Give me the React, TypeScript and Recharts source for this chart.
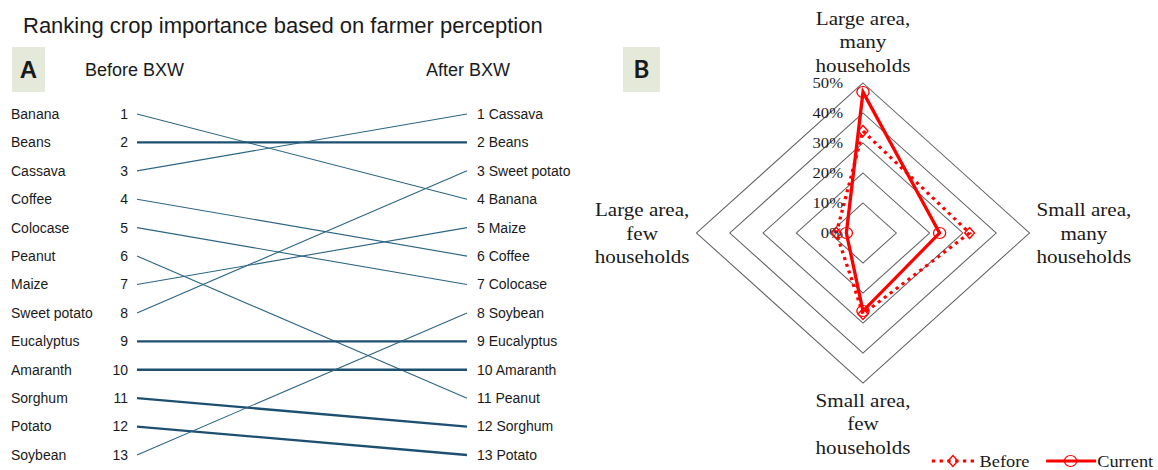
import React from "react";
import {
  LineChart,
  Line,
  XAxis,
  YAxis,
  RadarChart,
  Radar,
  PolarGrid,
  PolarAngleAxis,
  PolarRadiusAxis,
  Legend,
} from "recharts";

// Panel A: crop ranking before / after BXW
const crops = [
  "Banana",
  "Beans",
  "Cassava",
  "Coffee",
  "Colocase",
  "Peanut",
  "Maize",
  "Sweet potato",
  "Eucalyptus",
  "Amaranth",
  "Sorghum",
  "Potato",
  "Soybean",
];
const rankBefore = [1, 2, 3, 4, 5, 6, 7, 8, 9, 10, 11, 12, 13];
const rankAfter = [4, 2, 1, 6, 7, 11, 5, 3, 9, 10, 12, 13, 8];
const rankTicks = [1, 2, 3, 4, 5, 6, 7, 8, 9, 10, 11, 12, 13];

// Panel B: share of farms by area / households (%)
const radarAxes = [
  "Large area, many households",
  "Small area, many households",
  "Small area, few households",
  "Large area, few households",
];
const sharesBefore = [34, 32, 27, 8];
const sharesCurrent = [47, 23, 26, 5];
const percentTicks = [0, 10, 20, 30, 40, 50];

const thickCrops = ["Beans", "Eucalyptus", "Amaranth", "Sorghum", "Potato"];

const SANS = "'Liberation Sans', Arial, sans-serif";
const SERIF = "'Liberation Serif', 'Times New Roman', serif";
const TEXT = "#1a1a1a";
const RED = "#ff0000";

// radar is stretched horizontally like the original Excel picture
const SX = 1.11;
const RCX = 283;
const RCY = 233;

const slopeData = [
  { stage: 0, ...Object.fromEntries(crops.map((c, i) => [c, rankBefore[i]])) },
  { stage: 1, ...Object.fromEntries(crops.map((c, i) => [c, rankAfter[i]])) },
];

const radarData = radarAxes.map((axis, i) => ({
  axis,
  before: sharesBefore[i],
  current: sharesCurrent[i],
}));

function LeftTick(props: any) {
  const { x, y, payload } = props;
  const idx = rankBefore.indexOf(payload.value);
  return (
    <g fontFamily={SANS} fontSize={14} fill={TEXT}>
      <text x={x - 117} y={y} dy="0.35em" textAnchor="start" fill={TEXT}>
        {crops[idx]}
      </text>
      <text x={x} y={y} dy="0.35em" textAnchor="end" fill={TEXT}>
        {payload.value}
      </text>
    </g>
  );
}

function RightTick(props: any) {
  const { x, y, payload } = props;
  const idx = rankAfter.indexOf(payload.value);
  return (
    <text x={x} y={y} dy="0.35em" textAnchor="start" fontFamily={SANS} fontSize={14} fill={TEXT}>
      {payload.value} {crops[idx]}
    </text>
  );
}

function AngleTick(props: any) {
  const { x, y, payload } = props;
  const words = String(payload.value).split(" ");
  const lines = [words.slice(0, 2).join(" "), ...words.slice(2)];
  const dx = x - RCX;
  const dy = y - RCY;
  let tx = RCX;
  let ys = [-23.5, 0, 23.5];
  if (Math.abs(dy) > Math.abs(dx)) {
    ys = dy < 0 ? [-215, -191.5, -168] : [167, 190.5, 214];
  } else {
    tx = RCX + Math.sign(dx) * 199;
  }
  return (
    <text textAnchor="middle" fontFamily={SERIF} fontSize={19} fill={TEXT}>
      {lines.map((l, i) => (
        <tspan key={i} x={tx} y={RCY + ys[i]} dy="0.35em">
          {l}
        </tspan>
      ))}
    </text>
  );
}

function RadiusTick(props: any) {
  const { x, y, payload } = props;
  return (
    <text x={x - 18} y={y} dy="0.35em" textAnchor="end" fontFamily={SERIF} fontSize={15} fill={TEXT}>
      {payload.value}%
    </text>
  );
}

const circleDot = (p: any) => (
  <circle key={`c-${p.index}`} cx={p.cx} cy={p.cy} r={5.5} fill="none" stroke={RED} strokeWidth={1.2} />
);

const diamondDot = (p: any) => (
  <path
    key={`d-${p.index}`}
    d={`M${p.cx},${p.cy - 5.5} L${p.cx + 4.5},${p.cy} L${p.cx},${p.cy + 5.5} L${p.cx - 4.5},${p.cy} Z`}
    fill="none"
    stroke={RED}
    strokeWidth={1.2}
  />
);

function RadarLegend() {
  return (
    <svg width={210} height={22} style={{ display: "block", overflow: "visible" }}>
      <line x1={0} y1={11} x2={38} y2={11} stroke={RED} strokeWidth={3} strokeDasharray="3 4" />
      {diamondDot({ cx: 19, cy: 11, index: "l" })}
      <text x={43} y={11} dy="0.35em" fontFamily={SERIF} fontSize={16.5} fill={TEXT}>
        Before
      </text>
      <line x1={103} y1={11} x2={148} y2={11} stroke={RED} strokeWidth={3} />
      {circleDot({ cx: 125, cy: 11, index: "l" })}
      <text x={149} y={11} dy="0.35em" fontFamily={SERIF} fontSize={16.5} fill={TEXT}>
        Current
      </text>
    </svg>
  );
}

export default function App() {
  return (
    <div
      style={{
        position: "absolute",
        left: 0,
        top: 0,
        width: 1158,
        height: 470,
        background: "#ffffff",
        overflow: "hidden",
      }}
    >
      <svg width={1158} height={470} style={{ position: "absolute", left: 0, top: 0 }}>
        <text x={23} y={25} dy="0.35em" fontFamily={SANS} fontSize={22} fill={TEXT}>
          Ranking crop importance based on farmer perception
        </text>
        <rect x={12} y={47} width={33} height={45} fill="#e4e9da" />
        <text x={28.5} y={70} dy="0.35em" textAnchor="middle" fontFamily={SANS} fontSize={24} fontWeight="bold" fill={TEXT}>
          A
        </text>
        <text x={85} y={70} dy="0.35em" fontFamily={SANS} fontSize={18} fill={TEXT}>
          Before BXW
        </text>
        <text x={426} y={70} dy="0.35em" fontFamily={SANS} fontSize={18} fill={TEXT}>
          After BXW
        </text>
        <rect x={623} y={47} width={37} height={45} fill="#e4e9da" />
        <text x={641.5} y={70} dy="0.35em" textAnchor="middle" fontFamily="Lato, 'Open Sans', sans-serif" fontSize={24} fontWeight="bold" fill={TEXT}>
          B
        </text>
      </svg>

      <div style={{ position: "absolute", left: 0, top: 0 }}>
        <LineChart width={600} height={470} data={slopeData} margin={{ top: 114, right: 0, bottom: 15, left: 0 }}>
          <XAxis dataKey="stage" type="number" domain={[0, 1]} hide />
          <YAxis
            yAxisId="left"
            type="number"
            domain={[1, 13]}
            reversed
            ticks={rankTicks}
            width={137}
            tickSize={0}
            tickMargin={9}
            axisLine={false}
            tickLine={false}
            interval={0}
            tick={<LeftTick />}
          />
          <YAxis
            yAxisId="right"
            orientation="right"
            type="number"
            domain={[1, 13]}
            reversed
            ticks={rankTicks}
            width={133}
            tickSize={0}
            tickMargin={10}
            axisLine={false}
            tickLine={false}
            interval={0}
            tick={<RightTick />}
          />
          {crops.map((c) => {
            const thick = thickCrops.includes(c);
            return (
              <Line
                key={c}
                yAxisId={thick ? "right" : "left"}
                dataKey={c}
                type="linear"
                stroke={thick ? "#1d5070" : "#2c6583"}
                strokeWidth={thick ? 2.3 : 1.1}
                dot={false}
                activeDot={false}
                isAnimationActive={false}
              />
            );
          })}
        </LineChart>
      </div>

      <div
        style={{
          position: "absolute",
          left: 580,
          top: 0,
          width: 560,
          height: 470,
          transform: `scaleX(${SX})`,
          transformOrigin: `${RCX}px 0px`,
        }}
      >
        <RadarChart
          width={560}
          height={470}
          data={radarData}
          cx={RCX}
          cy={RCY}
          outerRadius={150}
          margin={{ top: 0, right: 0, bottom: 0, left: 0 }}
        >
          <PolarGrid gridType="polygon" radialLines={false} stroke="#5f5f5f" strokeWidth={1} />
          <PolarAngleAxis dataKey="axis" axisLine={false} tickLine={false} tick={<AngleTick />} />
          <PolarRadiusAxis
            angle={90}
            type="number"
            domain={[0, 50]}
            ticks={percentTicks}
            tickCount={6}
            axisLine={false}
            tickLine={false}
            tick={<RadiusTick />}
          />
          <Radar
            name="Before"
            dataKey="before"
            stroke={RED}
            strokeWidth={3}
            strokeDasharray="3 4"
            fill="none"
            fillOpacity={0}
            dot={diamondDot}
            isAnimationActive={false}
          />
          <Radar
            name="Current"
            dataKey="current"
            stroke={RED}
            strokeWidth={3}
            fill="none"
            fillOpacity={0}
            dot={circleDot}
            isAnimationActive={false}
          />
          <Legend
            content={() => <RadarLegend />}
            wrapperStyle={{ position: "absolute", left: 345, top: 450, width: 210, height: 22 }}
          />
        </RadarChart>
      </div>
    </div>
  );
}
